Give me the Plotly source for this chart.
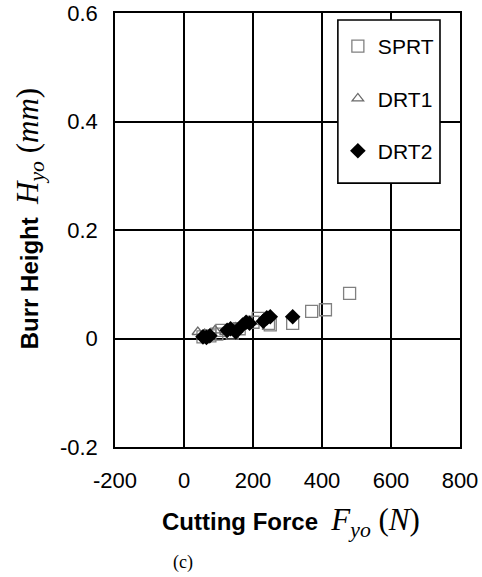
import plotly.graph_objects as go

# Data
sprt_x = [55, 75, 95, 110, 140, 160, 200, 215, 245, 250, 315, 370, 410, 480]
sprt_y = [0.003, 0.005, 0.008, 0.015, 0.010, 0.018, 0.030, 0.037, 0.028, 0.025, 0.028, 0.050, 0.053, 0.083]

drt1_x = [40, 60, 90, 120, 150, 190, 230]
drt1_y = [0.012, 0.008, 0.015, 0.012, 0.020, 0.030, 0.035]

drt2_x = [55, 65, 75, 125, 135, 150, 170, 180, 190, 230, 240, 250, 315]
drt2_y = [0.003, 0.002, 0.005, 0.015, 0.018, 0.012, 0.025, 0.030, 0.028, 0.032, 0.038, 0.040, 0.040]

x_ticks = [-200, 0, 200, 400, 600, 800]
x_tick_labels = ["-200", "0", "200", "400", "600", "800"]
y_ticks = [-0.2, 0, 0.2, 0.4, 0.6]
y_tick_labels = ["-0.2", "0", "0.2", "0.4", "0.6"]

SANS = "Liberation Sans, Arial, sans-serif"
SERIF = "Liberation Serif, Times New Roman, serif"

fig = go.Figure()
fig.add_trace(go.Scatter(
    x=sprt_x, y=sprt_y, mode="markers", name="SPRT", legendgroup="a",
    marker=dict(symbol="square-open", size=12, color="#808080", line=dict(width=1.3))))
fig.add_trace(go.Scatter(
    x=drt1_x, y=drt1_y, mode="markers", name="DRT1", legendgroup="b",
    marker=dict(symbol="triangle-up-open", size=10, color="#6a6a6a", line=dict(width=1.3))))
fig.add_trace(go.Scatter(
    x=drt2_x, y=drt2_y, mode="markers", name="DRT2", legendgroup="c",
    marker=dict(symbol="diamond", size=12, color="black")))

axis_common = dict(
    showgrid=True, gridcolor="black", gridwidth=1.6,
    showline=True, linecolor="black", linewidth=1.6, mirror="allticks",
    zeroline=True, zerolinecolor="black", zerolinewidth=1.6,
    ticks="inside", ticklen=5, tickcolor="black", tickwidth=1.3,
    tickfont=dict(family=SANS, size=22, color="black"),
    automargin=False, ticklabeloverflow="allow",
)

fig.update_xaxes(range=[-200, 800], tickvals=x_ticks, ticktext=x_tick_labels,
                 ticklabelstandoff=13, **axis_common)
fig.update_yaxes(range=[-0.2, 0.6], tickvals=y_ticks, ticktext=y_tick_labels,
                 ticklabelstandoff=11, **axis_common)

MATH = "font-family:Liberation Serif;font-size:31px"

fig.update_layout(
    width=482, height=577,
    margin=dict(l=115, r=22, t=13, b=130),
    plot_bgcolor="white", paper_bgcolor="white",
    showlegend=True,
    legend=dict(
        x=0.646, y=0.970, xanchor="left", yanchor="top",
        bgcolor="rgba(0,0,0,0)", borderwidth=0,
        font=dict(family=SANS, size=21, color="black"),
        tracegroupgap=22, itemwidth=30,
    ),
    shapes=[
        dict(type="rect", xref="paper", yref="paper", x0=0.646, x1=0.942, y0=0.608, y1=0.984,
             fillcolor="white", line=dict(color="black", width=1.6), layer="above"),
    ],
    annotations=[
        dict(text=(f"<b>Burr Height</b>  <span style='{MATH}'><i>H</i>"
                   "<sub><i>yo</i></sub> (<i>mm</i>)</span>"),
             xref="paper", yref="paper", x=-0.246, y=0.525, textangle=-90,
             showarrow=False, font=dict(family=SANS, size=24, color="black"),
             xanchor="center", yanchor="middle"),
        dict(text=(f"<b>Cutting Force</b>  <span style='{MATH}'><i>F</i>"
                   "<sub><i>yo</i></sub> (<i>N</i>)</span>"),
             xref="paper", yref="paper", x=0.51, y=-0.173,
             showarrow=False, font=dict(family=SANS, size=24, color="black"),
             xanchor="center", yanchor="middle"),
        dict(text="(c)", xref="paper", yref="paper", x=0.197, y=-0.265,
             showarrow=False, font=dict(family=SERIF, size=18, color="black"),
             xanchor="center", yanchor="middle"),
    ],
)

fig.write_html("out.html", config={"displayModeBar": False},
               post_script="document.body.style.margin='0';")
